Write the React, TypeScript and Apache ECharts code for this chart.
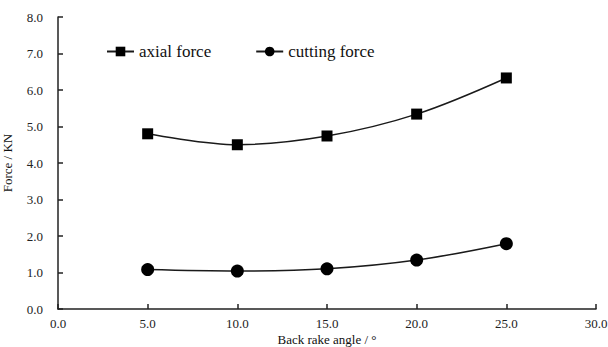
import React, { useEffect, useRef } from "react";
import * as echarts from "echarts";

const angles = [5, 10, 15, 20, 25];
const axialForce = [4.8, 4.5, 4.74, 5.34, 6.33];
const cuttingForce = [1.08, 1.04, 1.1, 1.34, 1.79];

const FONT = "Liberation Serif, Times New Roman, DejaVu Serif, serif";

export default function App() {
  const ref = useRef<HTMLDivElement>(null);
  useEffect(() => {
    if (!ref.current) return;
    const chart = echarts.init(ref.current, undefined, { renderer: "svg" });
    const lineColor = "#1a1a1a";
    chart.setOption({
      animation: false,
      backgroundColor: "#ffffff",
      textStyle: { fontFamily: FONT },
      grid: { left: 58, right: 12, top: 17, bottom: 38, containLabel: false, outerBoundsMode: "none" },
      legend: {
        left: 101,
        top: 38,
        itemWidth: 27,
        itemHeight: 12,
        itemGap: 44,
        textStyle: { fontFamily: FONT, fontSize: 17, color: "#111" },
        data: ["axial force", "cutting force"],
      },
      xAxis: {
        type: "value",
        min: 0,
        max: 30,
        interval: 5,
        name: "Back rake angle / °",
        nameLocation: "middle",
        nameGap: 23,
        nameMoveOverlap: false,
        nameTextStyle: { fontFamily: FONT, fontSize: 13, color: "#111", lineHeight: 14 },
        axisLine: { show: true, lineStyle: { color: "#222", width: 1.5 } },
        axisTick: { show: true, inside: true, length: 5, lineStyle: { color: "#222", width: 1.5 } },
        axisLabel: {
          fontFamily: FONT,
          fontSize: 13,
          color: "#222",
          margin: 8,
          formatter: (v: number) => v.toFixed(1),
        },
        splitLine: { show: false },
      },
      yAxis: {
        type: "value",
        min: 0,
        max: 8,
        interval: 1,
        name: "Force / KN",
        nameLocation: "middle",
        nameGap: 44,
        nameMoveOverlap: false,
        nameTextStyle: { fontFamily: FONT, fontSize: 13, color: "#111" },
        axisLine: { show: true, lineStyle: { color: "#222", width: 1.5 } },
        axisTick: { show: true, inside: true, length: 5, lineStyle: { color: "#222", width: 1.5 } },
        axisLabel: {
          fontFamily: FONT,
          fontSize: 13,
          color: "#222",
          margin: 15,
          formatter: (v: number) => v.toFixed(1),
        },
        splitLine: { show: false },
      },
      series: [
        {
          name: "axial force",
          type: "line",
          smooth: 0.35,
          data: angles.map((a, i) => [a, axialForce[i]]),
          symbol: "rect",
          symbolSize: 11,
          itemStyle: { color: "#000" },
          lineStyle: { color: lineColor, width: 1.5 },
        },
        {
          name: "cutting force",
          type: "line",
          smooth: 0.35,
          data: angles.map((a, i) => [a, cuttingForce[i]]),
          symbol: "circle",
          symbolSize: 13,
          itemStyle: { color: "#000" },
          lineStyle: { color: lineColor, width: 1.5 },
        },
      ],
    });
    return () => chart.dispose();
  }, []);
  return <div ref={ref} style={{ width: 608, height: 347, position: "absolute", left: 0, top: 0 }} />;
}
